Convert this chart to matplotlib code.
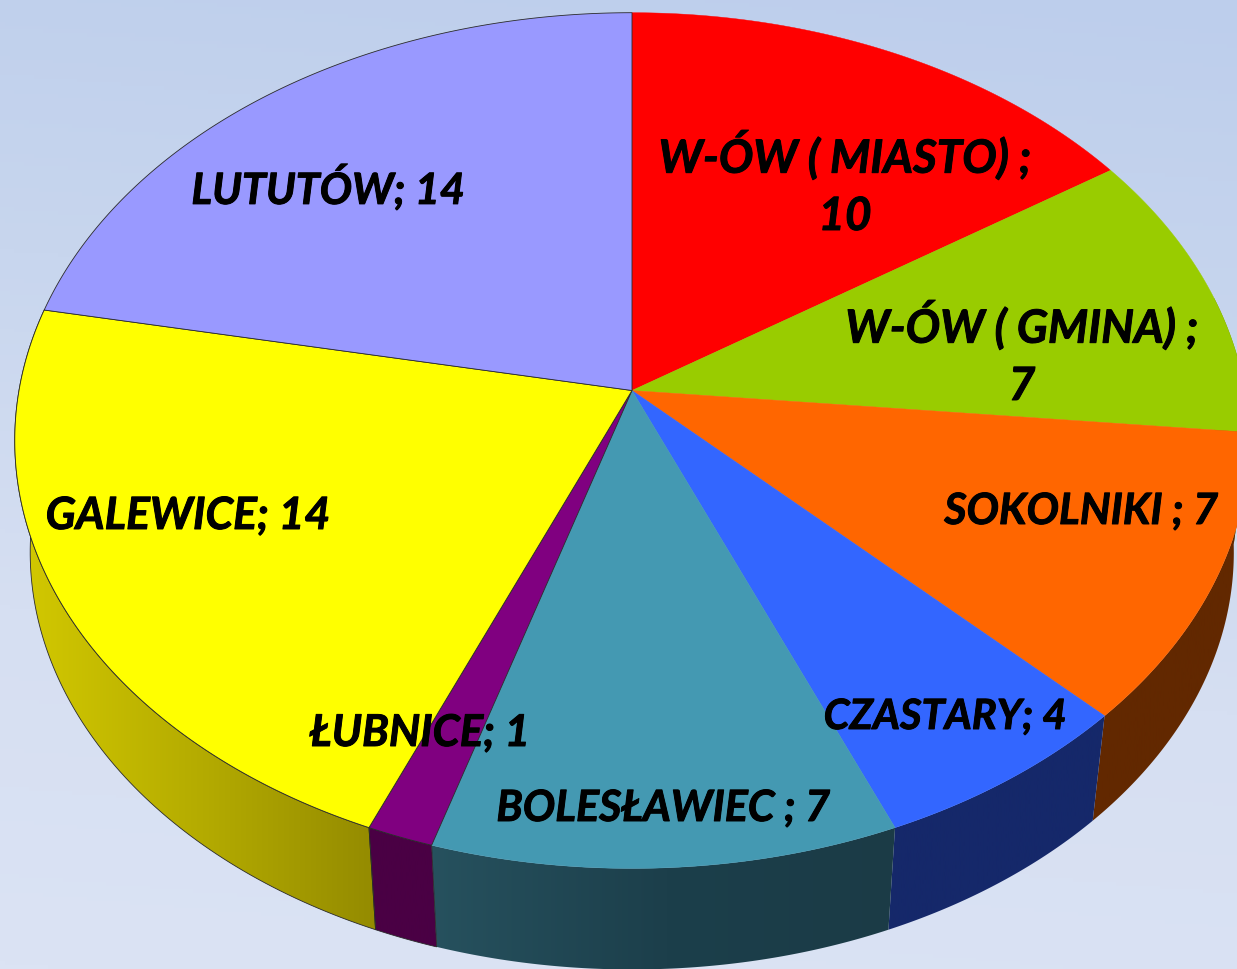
import numpy as np
import matplotlib
matplotlib.use("Agg")
import matplotlib.pyplot as plt
import matplotlib.patheffects as pe
from matplotlib.patches import Polygon
from matplotlib.colors import LinearSegmentedColormap

# ---- data ----
categories = ["W-ÓW ( MIASTO) ;\n", "W-ÓW ( GMINA) ;\n", "SOKOLNIKI ; ", "CZASTARY; ",
              "BOLESŁAWIEC ; ", "ŁUBNICE; ", "GALEWICE; ", "LUTUTÓW; "]
values = [10, 7, 7, 4, 7, 1, 14, 14]

# ---- style ----
top_colors = ["#FF0000", "#99CC00", "#FF6600", "#3366FF", "#4499B2", "#800080", "#FFFF00", "#9999FF"]
side_left = ["#7F0000", "#4C6600", "#622800", "#15286A", "#27525F", "#4A0044", "#D4CA00", "#4C4C7F"]
side_mid = ["#7F0000", "#4C6600", "#622800", "#15286A", "#1C3F4B", "#4A0044", "#B4AB00", "#4C4C7F"]
side_right = ["#7F0000", "#4C6600", "#622800", "#15286A", "#1B3B46", "#4A0044", "#918800", "#4C4C7F"]
outlined = [False, False, False, False, False, True, True, True]
label_xy = [(845, 185), (1022, 355), (1081, 512), (945, 718), (663, 809), (420, 734), (188, 517), (328, 188)]
label_size = [33, 33, 31, 30, 31, 31.5, 32, 31]
line_gap = 1.45

CX, CY, R, S, K = 632, 391.5, 613, 422, 0.117   # perspective pie layout (pixels)
DROP, SHRINK = 113, 0.975


def project(theta, radius=1.0, lower=False):
    x, y = radius * np.sin(theta), radius * np.cos(theta)
    den = 1 + K * y
    X, Y = R * x / den, S * y / den
    if lower:
        return CX + SHRINK * X, CY - SHRINK * Y + DROP
    return CX + X, CY - Y


fig = plt.figure(figsize=(12.37, 9.70), dpi=100)
ax = fig.add_axes([0, 0, 1, 1])

# background gradient
bg = LinearSegmentedColormap.from_list("bg", ["#BDCEEC", "#C8D6EE", "#D6DFF2", "#DBE3F4"])
yy = np.linspace(0, 1, 256)[:, None]
xx = np.linspace(0, 1, 256)[None, :]
ax.imshow(yy * 0.9 + (1 - xx) * 0.1, cmap=bg, extent=(0, 1237, 970, 0), aspect="auto", zorder=0, vmin=0, vmax=1)

edges = np.cumsum([0] + values) / sum(values) * 2 * np.pi

# sides
for i in range(len(values)):
    th = np.linspace(edges[i], edges[i + 1], 100)
    ux, uy = project(th)
    lx, ly = project(th, lower=True)
    pts = np.r_[np.c_[ux, uy], np.c_[lx, ly][::-1]]
    cm = LinearSegmentedColormap.from_list("s%d" % i, [side_left[i], side_mid[i], side_right[i]])
    vis = th[(th > np.pi / 2) & (th < 3 * np.pi / 2)]
    if len(vis) == 0:
        continue
    x0, x1 = lx[np.isin(th, vis)].min() - 16, max(ux[np.isin(th, vis)].max(), lx[np.isin(th, vis)].max()) + 16
    im = ax.imshow(np.linspace(0, 1, 256)[None, :], cmap=cm, extent=(x0, x1, 970, 0),
                   aspect="auto", zorder=1 + 0.01 * i)
    clip = Polygon(pts, closed=True, transform=ax.transData, facecolor="none", edgecolor="none")
    ax.add_patch(clip)
    im.set_clip_path(clip)
    if outlined[i]:
        ax.add_patch(Polygon(pts, closed=True, facecolor="none", edgecolor="#2a2a2a", lw=0.6,
                             zorder=1.5 + 0.01 * i))

ax.set_xlim(0, 1237)
ax.set_ylim(970, 0)
ax.axis("off")

# top faces
for i in range(len(values)):
    th = np.linspace(edges[i], edges[i + 1], 160)
    ux, uy = project(th)
    pts = np.r_[[[CX, CY]], np.c_[ux, uy]]
    ax.add_patch(Polygon(pts, closed=True, facecolor=top_colors[i],
                         edgecolor="#2a2a2a" if outlined[i] else top_colors[i],
                         lw=0.6 if outlined[i] else 0.3, zorder=2 + 0.01 * i))

# labels
for cat, val, (tx, ty), fs in zip(categories, values, label_xy, label_size):
    ax.text(tx, ty, f"{cat}{val}", ha="center", va="center", ma="center", family="Lato",
            fontsize=fs, fontweight="bold", fontstyle="italic", color="black",
            linespacing=line_gap, zorder=5,
            path_effects=[pe.withStroke(linewidth=0.7, foreground="black")])

fig.savefig("out.png", dpi=100)
